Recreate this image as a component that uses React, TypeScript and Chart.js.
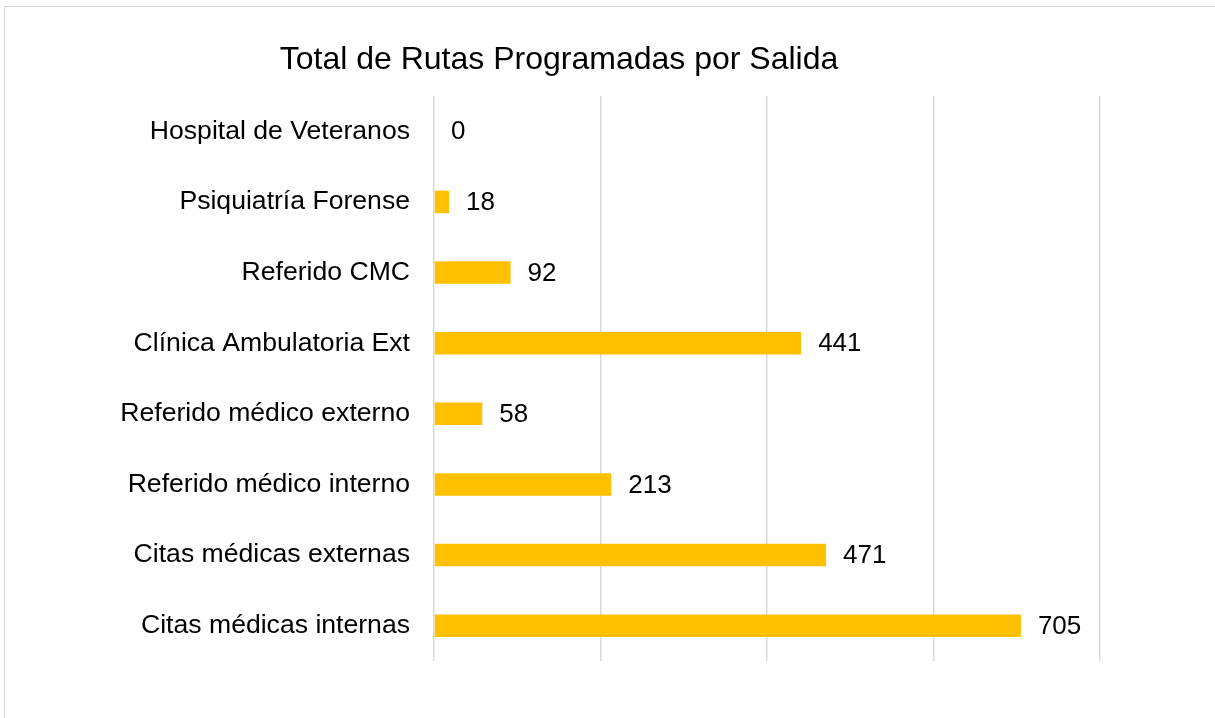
import React, { useEffect, useRef } from "react";
import { Chart, registerables } from "chart.js";

Chart.register(...registerables);

const categories = [
  "Hospital de Veteranos",
  "Psiquiatría Forense",
  "Referido CMC",
  "Clínica Ambulatoria Ext",
  "Referido médico externo",
  "Referido médico interno",
  "Citas médicas externas",
  "Citas médicas internas",
];
const values = [0, 18, 92, 441, 58, 213, 471, 705];
const chartTitle = "Total de Rutas Programadas por Salida";
const xMin = 0;
const xMax = 800;
const xStep = 200;

const FONT = '"Liberation Sans", Arial, sans-serif';

const valueLabels = {
  id: "valueLabels",
  afterDatasetsDraw(chart: any) {
    const ctx = chart.ctx;
    const meta = chart.getDatasetMeta(0);
    ctx.save();
    ctx.font = `26px ${FONT}`;
    ctx.fillStyle = "#000";
    ctx.textAlign = "left";
    ctx.textBaseline = "middle";
    meta.data.forEach((bar: any, i: number) => {
      ctx.fillText(String(values[i]), bar.x + 17, bar.y + 1);
    });
    ctx.restore();
  },
};

export default function App() {
  const ref = useRef<HTMLCanvasElement | null>(null);
  useEffect(() => {
    if (!ref.current) return;
    const chart = new Chart(ref.current, {
      type: "bar",
      data: {
        labels: categories,
        datasets: [
          {
            data: values,
            backgroundColor: "#FFC000",
            borderWidth: 0,
            categoryPercentage: 1,
            barPercentage: 0.32,
          },
        ],
      },
      options: {
        indexAxis: "y",
        animation: false,
        responsive: false,
        maintainAspectRatio: false,
        layout: { padding: { left: 18, right: 115, top: 0, bottom: 57 } },
        plugins: {
          legend: { display: false },
          tooltip: { enabled: false },
          title: {
            display: true,
            text: chartTitle,
            color: "#000",
            font: { family: FONT, size: 32, weight: "normal" },
            padding: { top: 41, bottom: 16.6 },
          },
        },
        scales: {
          x: {
            min: xMin,
            max: xMax,
            ticks: { display: false, stepSize: xStep },
            grid: { color: "#d9d9d9", lineWidth: 1.5, drawTicks: false },
            border: { display: false },
          },
          y: {
            grid: { display: false, drawTicks: false },
            border: { display: false },
            ticks: {
              color: "#000",
              padding: 24,
              font: { family: FONT, size: 26.6 },
            },
            afterFit: (scale: any) => {
              scale.width = 416;
            },
          },
        },
      },
      plugins: [valueLabels],
    });
    return () => chart.destroy();
  }, []);
  return (
    <div style={{ position: "absolute", left: 0, top: 0, width: 1215, height: 718, overflow: "hidden", background: "#fff" }}>
      <div
        style={{
          position: "absolute",
          left: 4,
          top: 6,
          width: 1300,
          height: 800,
          borderTop: "1.5px solid #d9d9d9",
          borderLeft: "1.5px solid #d9d9d9",
        }}
      />
      <canvas ref={ref} width={1215} height={718} style={{ position: "absolute", left: 0, top: 0, width: 1215, height: 718 }} />
    </div>
  );
}
